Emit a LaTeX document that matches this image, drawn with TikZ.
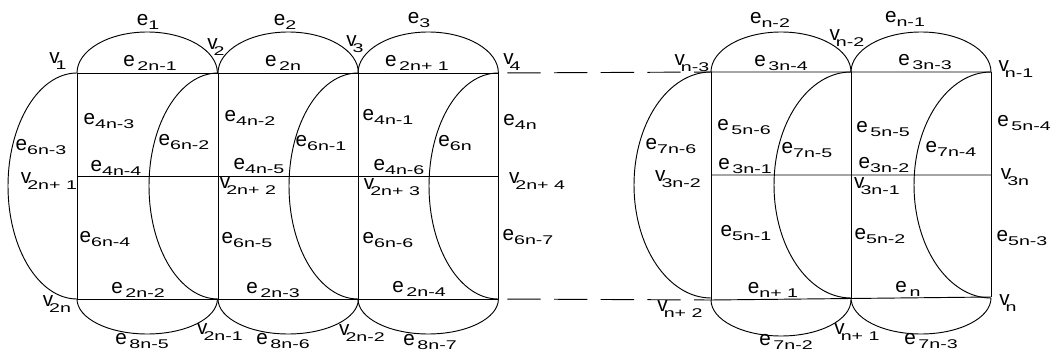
\documentclass[tikz,border=0pt]{standalone}
\usepackage{fontspec}
\setmainfont{Liberation Sans}
\usepackage{graphicx}

% subscript text, stretched wide as in the drawing
\newcommand{\subtxt}[1]{\scalebox{1.55}[1]{\fontsize{9.5}{10}\selectfont #1}}
\newcommand{\ee}[1]{e\raisebox{-2.5pt}{\subtxt{#1}}}
\newcommand{\es}[1]{e\hspace{2pt}\raisebox{-2.5pt}{\subtxt{#1}}}
\newcommand{\vv}[1]{v\kern-3pt\raisebox{-4pt}{\subtxt{#1}}}

\begin{document}
\begin{tikzpicture}[
    x=0.75pt, y=-0.75pt,
    font=\fontsize{15.5}{18}\selectfont,
    % Estilos
    edge/.style={line width=0.7pt},
    gap/.style={edge, dash pattern=on 25pt off 10pt, dash phase=28pt},
    lbl/.style={inner sep=0pt}
]
\useasboundingbox (0,0) rectangle (1052,352);

% ==========================================
% VERTICES
% ==========================================
% fila superior
\coordinate (v1) at (77,73);
\coordinate (v2) at (218,73);
\coordinate (v3) at (358,73);
\coordinate (v4) at (498,73);
\coordinate (vn3) at (711,72);
\coordinate (vn2) at (851,72);
\coordinate (vn1) at (991,72);
% fila central
\coordinate (v2n1) at (77,176);
\coordinate (v2n2) at (218,176);
\coordinate (v2n3) at (358,176);
\coordinate (v2n4) at (498,176);
\coordinate (v3n2) at (711,175);
\coordinate (v3n1) at (851,175);
\coordinate (v3n) at (991,175);
% fila inferior
\coordinate (v2n) at (77,299);
\coordinate (v2m1) at (218,299);
\coordinate (v2m2) at (358,299);
\coordinate (v2m3) at (498,299);
\coordinate (vnp2) at (711,300);
\coordinate (vnp1) at (851,298);
\coordinate (vn) at (991,297);

% ==========================================
% ARISTAS
% ==========================================
\draw[edge] (v1) -- (v4) (v2n1) -- (v2n4) (v2n) -- (v2m3);
\draw[edge] (vn3) -- (vn1) (v3n2) -- (v3n) (vnp2) -- (vn);
\foreach \t/\b in {v1/v2n, v2/v2m1, v3/v2m2, v4/v2m3, vn3/vnp2, vn2/vnp1, vn1/vn}
    \draw[edge] (\t) -- (\b);

% arcos superiores e inferiores
\foreach \a in {v1,v2,v3}
    \draw[edge] (\a) arc[start angle=180, end angle=360, x radius=70.2, y radius=41];
\foreach \a in {vn3,vn2}
    \draw[edge] (\a) arc[start angle=180, end angle=360, x radius=70, y radius=40];
\foreach \a in {v2n,v2m1,v2m2}
    \draw[edge] (\a) arc[start angle=180, end angle=0, x radius=70.2, y radius=35];
\foreach \a in {vnp2,vnp1}
    \draw[edge] (\a) arc[start angle=180, end angle=0, x radius=70, y radius=36];

% arcos laterales
\foreach \a in {v1,v2,v3,v4}
    \draw[edge] (\a) arc[start angle=270, end angle=90, x radius=69, y radius=113];
\foreach \a in {vn3,vn2,vn1}
    \draw[edge] (\a) arc[start angle=270, end angle=90, x radius=77, y radius=113];

% tramos omitidos
\draw[gap] (v4) -- (vn3);
\draw[gap] (v2m3) -- (vnp2);

% ==========================================
% ETIQUETAS (PARTE IZQUIERDA)
% ==========================================
\node[lbl] (le1) at (148,22) {\ee{1}};
\node[lbl] (le2) at (285,22) {\ee{2}};
\node[lbl] (le3) at (419,20) {\ee{3}};
\node[lbl] (lv1) at (58,61) {\vv{1}};
\node[lbl] (lv2) at (216,47) {\vv{2}};
\node[lbl] (lv3) at (355,44) {\vv{3}};
\node[lbl] (lv4) at (512,62) {\vv{4}};
\node[lbl] (le2n1) at (150,63) {\es{2n-1}};
\node[lbl] (le2n) at (283,63) {\es{2n}};
\node[lbl] (le2np1) at (417,63) {\es{2n+ 1}};
\node[lbl] (le4n3) at (109,121) {\ee{4n-3}};
\node[lbl] (le4n2) at (250,118) {\ee{4n-2}};
\node[lbl] (le4n1) at (388,117) {\ee{4n-1}};
\node[lbl] (le4n) at (520,122) {\ee{4n}};
\node[lbl] (le6n3) at (41,147) {\ee{6n-3}};
\node[lbl] (le6n2) at (184,142) {\ee{6n-2}};
\node[lbl] (le6n1) at (321,143) {\ee{6n-1}};
\node[lbl] (le6n) at (455,143) {\ee{6n}};
\node[lbl] (le4n4) at (116,168) {\ee{4n-4}};
\node[lbl] (le4n5) at (259,166) {\ee{4n-5}};
\node[lbl] (le4n6) at (399,167) {\ee{4n-6}};
\node[lbl] (lv2np1) at (49,181) {\vv{2n+ 1}};
\node[lbl] (lv2np2) at (248,186) {\vv{2n+ 2}};
\node[lbl] (lv2np3) at (392,187) {\vv{2n+ 3}};
\node[lbl] (lv2np4) at (537,181) {\vv{2n+ 4}};
\node[lbl] (le6n4) at (105,239) {\ee{6n-4}};
\node[lbl] (le6n5) at (247,240) {\ee{6n-5}};
\node[lbl] (le6n6) at (388,240) {\ee{6n-6}};
\node[lbl] (le6n7) at (528,237) {\ee{6n-7}};
\node[lbl] (le2n2) at (138,290) {\es{2n-2}};
\node[lbl] (le2n3) at (273,290) {\es{2n-3}};
\node[lbl] (le2n4) at (419,289) {\es{2n-4}};
\node[lbl] (lv2n) at (57,304) {\vv{2n}};
\node[lbl] (lv2n1) at (220,332) {\vv{2n-1}};
\node[lbl] (lv2n2) at (362,333) {\vv{2n-2}};
\node[lbl] (le8n5) at (142,341) {\es{8n-5}};
\node[lbl] (le8n6) at (283,341) {\es{8n-6}};
\node[lbl] (le8n7) at (430,342) {\es{8n-7}};

% ==========================================
% ETIQUETAS (PARTE DERECHA)
% ==========================================
\node[lbl] (len2) at (770,20) {\ee{n-2}};
\node[lbl] (len1) at (905,19) {\ee{n-1}};
\node[lbl] (lvn2) at (847,38) {\vv{n-2}};
\node[lbl] (lvn3) at (692,63) {\vv{n-3}};
\node[lbl] (le3n4) at (781,63) {\es{3n-4}};
\node[lbl] (le3n3) at (925,62) {\es{3n-3}};
\node[lbl] (lvn1) at (1016,69) {\vv{n-1}};
\node[lbl] (le5n6) at (744,127) {\es{5n-6}};
\node[lbl] (le5n5) at (883,129) {\es{5n-5}};
\node[lbl] (le5n4) at (1024,123) {\es{5n-4}};
\node[lbl] (le7n6) at (671,146) {\ee{7n-6}};
\node[lbl] (le7n5) at (807,150) {\ee{7n-5}};
\node[lbl] (le7n4) at (951,149) {\ee{7n-4}};
\node[lbl] (le3n1) at (745,166) {\es{3n-1}};
\node[lbl] (le3n2) at (884,165) {\ee{3n-2}};
\node[lbl] (lv3n2) at (678,179) {\vv{3n-2}};
\node[lbl] (lv3n1) at (877,186) {\vv{3n-1}};
\node[lbl] (lv3n) at (1015,177) {\vv{3n}};
\node[lbl] (le5n1) at (746,233) {\ee{5n-1}};
\node[lbl] (le5n2) at (880,236) {\ee{5n-2}};
\node[lbl] (le5n3) at (1022,238) {\ee{5n-3}};
\node[lbl] (lenp1) at (773,290) {\ee{n+ 1}};
\node[lbl] (len) at (908,289) {\es{n}};
\node[lbl] (lvnp2) at (680,309) {\vv{n+ 2}};
\node[lbl] (lvn) at (1008,303) {\vv{n}};
\node[lbl] (lvnp1) at (857,332) {\vv{n+ 1}};
\node[lbl] (le7n2) at (786,342) {\es{7n-2}};
\node[lbl] (le7n3) at (931,341) {\es{7n-3}};

\end{tikzpicture}
\end{document}
